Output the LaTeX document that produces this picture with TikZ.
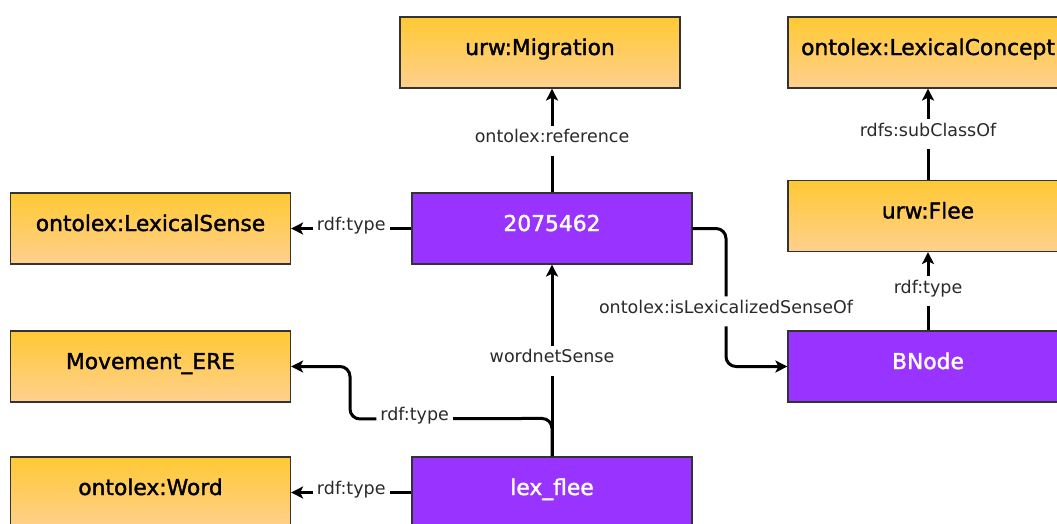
\documentclass[tikz,border=0pt]{standalone}
\usepackage{fontspec}
\setmainfont{DejaVu Sans}
\newfontfamily\boxfont[FakeBold=1.6]{DejaVu Sans}
\usetikzlibrary{arrows.meta}
\definecolor{gtop}{HTML}{FFC933}
\definecolor{gbot}{HTML}{FFD08E}
\definecolor{purp}{HTML}{9933FF}
\definecolor{bord}{HTML}{333333}
\definecolor{lblc}{HTML}{2A2A2A}
\tikzset{
  box/.style={draw=bord, line width=1.2pt, minimum width=280pt, minimum height=71pt,
    inner sep=0pt, text height=15pt, text depth=10pt,
    font=\boxfont\fontsize{21.8}{25}\selectfont},
  cls/.style={box, top color=gtop, bottom color=gbot, text=black},
  inst/.style={box, fill=purp, text=white},
  arr/.style={line width=3pt, -{Stealth[length=12pt,width=12pt,inset=3pt]}},
  lbl/.style={fill=white, text=lblc, inner sep=4pt, text height=13pt, text depth=9pt,
    font=\fontsize{17.5}{20}\selectfont}
}
\begin{document}
\begin{tikzpicture}[x=1pt,y=-1pt]
\clip (0,0) rectangle (1057,523);
\fill[white] (0,0) rectangle (1057,523);
\node[cls]  (mig)    at (540,52.5)  {urw:Migration};
\node[cls]  (lcon)   at (928,52.5)  {ontolex:LexicalConcept};
\node[cls]  (lsense) at (150.5,228.5) {ontolex:LexicalSense};
\node[inst] (sense)  at (552,228.5) {2075462};
\node[cls]  (flee)   at (928,216)   {urw:Flee};
\node[cls]  (move)   at (150.5,366.5) {Movement\_ERE};
\node[inst] (bnode)  at (928,366.5) {BNode};
\node[cls]  (word)   at (150.5,492.5) {ontolex:Word};
\node[inst] (lex)    at (552,492.5) {lex\_flee};

\draw[arr] (sense.north) -- (sense.north |- mig.south) node[lbl,pos=0.5] {ontolex:reference};
\draw[arr] (sense.west) -- (lsense.east) node[lbl,pos=0.5] {rdf:type};
\draw[arr] (lex.north) -- (sense.south) node[lbl,pos=0.5] {wordnetSense};
\draw[arr, rounded corners=10pt] (lex.north) -- ++(0,-38) -- node[lbl,pos=0.68] {rdf:type} (350,419) -- (350,366.5) -- (move.east);
\draw[arr] (lex.west) -- (word.east) node[lbl,pos=0.5] {rdf:type};
\draw[arr, rounded corners=10pt] (sense.east) -- (726,228.5) -- node[lbl,pos=0.6] {ontolex:isLexicalizedSenseOf} (726,366.5) -- (bnode.west);
\draw[arr] (bnode.north) -- (flee.south) node[lbl,pos=0.5] {rdf:type};
\draw[arr] (flee.north) -- (lcon.south) node[lbl,pos=0.5] {rdfs:subClassOf};
\end{tikzpicture}
\end{document}
